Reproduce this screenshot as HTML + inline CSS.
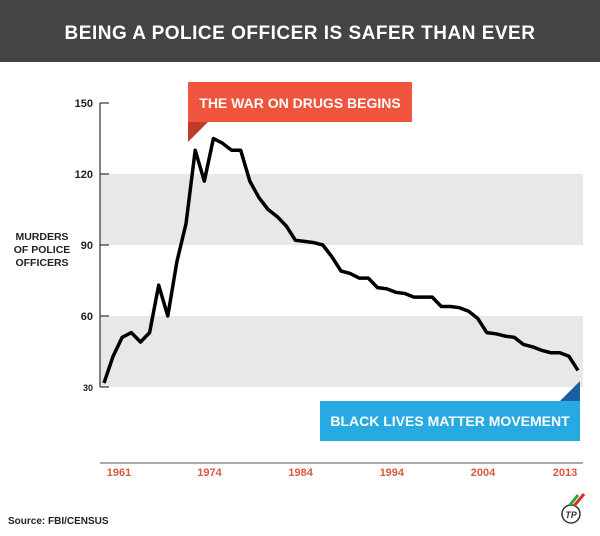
<!DOCTYPE html>
<html><head><meta charset="utf-8"><style>
body{margin:0;width:600px;height:531px;background:#fff;overflow:hidden;font-family:"Liberation Sans",sans-serif}
</style></head><body>
<svg width="600" height="531" xmlns="http://www.w3.org/2000/svg">
<rect x="0" y="0" width="600" height="62" fill="#444444"/>
<text x="300" y="39" text-anchor="middle" fill="#fff" font-size="19" font-weight="bold" letter-spacing="0.5">BEING A POLICE OFFICER IS SAFER THAN EVER</text>
<g id="bands"></g>
<g id="axes"></g>
<g id="ann">
<rect x="188" y="82" width="224" height="40" fill="#ef543c"/>
<polygon points="188,122 208,122 188,142" fill="#c23b28"/>
<text x="300" y="108" text-anchor="middle" fill="#fff" font-size="14" font-weight="bold">THE WAR ON DRUGS BEGINS</text>
<rect x="320" y="401" width="260" height="40" fill="#27a9e1"/>
<polygon points="560,401 580,401 580,381" fill="#1a5fa0"/>
<text x="450" y="426" text-anchor="middle" fill="#fff" font-size="14" font-weight="bold">BLACK LIVES MATTER MOVEMENT</text>
</g>
<g font-size="10.5" font-weight="bold" fill="#222" text-anchor="middle">
<text x="42" y="240">MURDERS</text><text x="42" y="253">OF POLICE</text><text x="42" y="266">OFFICERS</text>
</g>
<text x="8" y="524" font-size="10" font-weight="bold" fill="#222">Source: FBI/CENSUS</text>
<g><circle cx="571" cy="514" r="9" fill="#fff" stroke="#333" stroke-width="1.5"/><text x="571" y="518" text-anchor="middle" font-size="9" font-style="italic" font-weight="bold" fill="#333">TP</text>
<line x1="574" y1="506" x2="584" y2="494" stroke="#c33" stroke-width="3"/><line x1="570" y1="505" x2="578" y2="495" stroke="#3a3" stroke-width="3"/></g>
<path id="line" fill="none" stroke="#000" stroke-width="3.5" stroke-linejoin="round"/>
</svg>
<script>
const years=[1961,1962,1963,1964,1965,1966,1967,1968,1969,1970,1971,1972,1973,1974,1975,1976,1977,1978,1979,1980,1981,1982,1983,1984,1985,1986,1987,1988,1989,1990,1991,1992,1993,1994,1995,1996,1997,1998,1999,2000,2001,2002,2003,2004,2005,2006,2007,2008,2009,2010,2011,2012,2013];
const murders=[31.7,43,51,53,49,53,73,60,83,99,130,117,135,133,130,130,117,110,105,102,98,92,91.5,91,90,85,79,78,76,76,72,71.5,70,69.5,68,68,68,64,64,63.5,62,59,53,52.5,51.5,51,48,47,45.5,44.5,44.5,43,37];
const yTicks=[30,60,90,120,150];
const xTicks=[1961,1974,1984,1994,2004,2013];
const bandRanges=[[30,60],[90,120]];
const NS="http://www.w3.org/2000/svg";
const X=v=>104+(v-1961)*(578-104)/(2013-1961);
const Y=v=>387-(v-30)*(387-103)/120;
function mk(t,a,p){const e=document.createElementNS(NS,t);for(const k in a)e.setAttribute(k,a[k]);p.appendChild(e);return e;}
const bands=document.getElementById('bands'),axes=document.getElementById('axes');
bandRanges.forEach(r=>{const e=mk('rect',{x:100,y:Y(r[1]),width:483,height:Y(r[0])-Y(r[1]),fill:'#e9e8e8'},bands);

});
const ya=mk('line',{x1:100,y1:Y(150),x2:100,y2:Y(30),stroke:'#333','stroke-width':1.2},axes);


yTicks.forEach(v=>{mk('line',{x1:100,y1:Y(v),x2:109,y2:Y(v),stroke:'#333','stroke-width':1.2},axes);
const t=mk('text',{x:93,y:Y(v)+4,'text-anchor':'end','font-size':v==30?9:11,'font-weight':'bold',fill:'#222'},axes);t.textContent=v;

});
const xa=mk('line',{x1:100,y1:463,x2:583,y2:463,stroke:'#777','stroke-width':1.2},axes);


xTicks.forEach(v=>{const t=mk('text',{x:X(v)+(v==1961?15:-13),y:476,'text-anchor':'middle','font-size':11,'font-weight':'bold',fill:'#d9583e'},axes);t.textContent=v;

});
document.getElementById('line').setAttribute('d',years.map((y,i)=>(i?'L':'M')+X(y).toFixed(1)+','+Y(murders[i]).toFixed(1)).join(''));
</script>
</body></html>
